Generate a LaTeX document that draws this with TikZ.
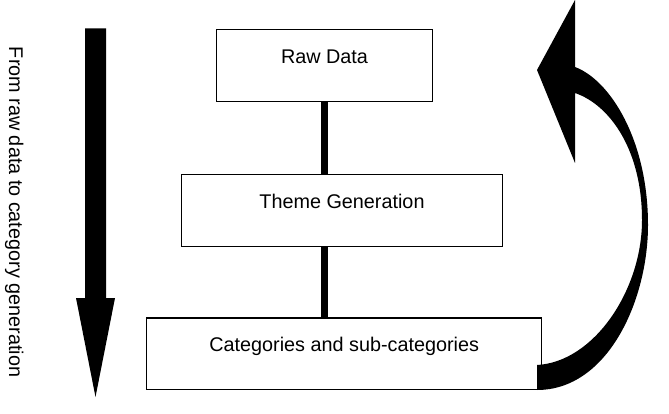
\documentclass[tikz,border=0pt]{standalone}
\usepackage{fontspec}
\setmainfont{Liberation Sans}

\begin{document}
\begin{tikzpicture}[x=1pt,y=-1pt,
		stage/.style={draw, line width=1.2pt, inner sep=0pt, text height=33.5pt, text depth=38pt, anchor=north, font=\fontsize{19.8}{24}\selectfont},
		link/.style={line width=6.5pt}]
	\useasboundingbox (0,0) rectangle (669,414);
	\node[stage, minimum width=215.6pt] (raw) at (324.5,29.3) {Raw Data};
	\node[stage, minimum width=321.7pt] (theme) at (342,174) {Theme Generation};
	\node[stage, minimum width=395pt] (cats) at (344.2,317.3) {Categories and sub-categories};
	\draw[link] (raw.south) -- (raw.south |- theme.north);
	\draw[link] (raw.south |- theme.south) -- (raw.south |- cats.north);
	% direction label and arrow on the left
	\node[rotate=-90, inner sep=0pt, font=\fontsize{19.8}{24}\selectfont] (caption) at (14.2,212) {From raw data to category generation};
	\fill (85,28.3) -- (106,28.3) -- (106,298) -- (115,298) -- (95.5,397) -- (76,298) -- (85,298) -- cycle;
	% curved arrow back up to the top
	\fill (537,390) .. controls (608,390) and (648,300) .. (648,225) .. controls (648,140) and (610,80) .. (575,67) -- (575,0) -- (537,70) -- (575,163) -- (575,93) .. controls (610,105) and (642,150) .. (642,220) .. controls (642,290) and (594,362) .. (537,365) -- cycle;
\end{tikzpicture}
\end{document}
